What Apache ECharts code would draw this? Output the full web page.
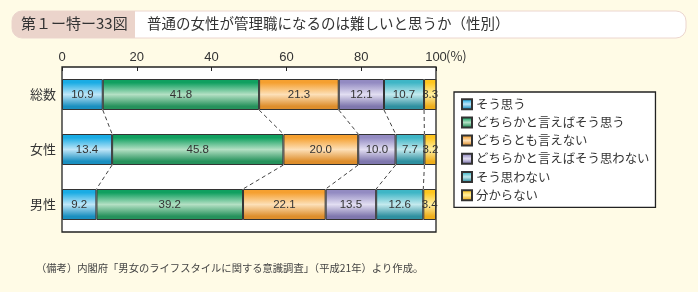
<!DOCTYPE html>
<html>
<head>
<meta charset="utf-8">
<script src="https://cdn.jsdelivr.net/npm/echarts@6/dist/echarts.min.js"></script>
<style>
  html, body { margin: 0; padding: 0; background: #fffbe6; }
  #chart { width: 698px; height: 292px; }
</style>
</head>
<body>
<div id="chart"></div>
<script>
  // 行（上から）
  var rows = ['総数', '女性', '男性'];
  // 回答区分
  var answers = ['そう思う', 'どちらかと言えばそう思う', 'どちらとも言えない', 'どちらかと言えばそう思わない', 'そう思わない', '分からない'];
  // 各区分の割合（総数, 女性, 男性）
  var soOmou = [10.9, 13.4, 9.2];
  var dochiraSoOmou = [41.8, 45.8, 39.2];
  var dochiraTomo = [21.3, 20.0, 22.1];
  var dochiraOmowanai = [12.1, 10.0, 13.5];
  var omowanai = [10.7, 7.7, 12.6];
  var wakaranai = [3.3, 3.2, 3.4];
  var xTicks = [0, 20, 40, 60, 80, 100];

  var values = [soOmou, dochiraSoOmou, dochiraTomo, dochiraOmowanai, omowanai, wakaranai];
  // [上端, 中央, 下端]
  var palette = [
    ['#1aace4', '#bfe6f8', '#1a8fc0'],
    ['#10a060', '#b4e0c4', '#26925c'],
    ['#f5a030', '#fde0b8', '#de8e2c'],
    ['#938bc2', '#e2def2', '#7f77ae'],
    ['#3fb6c6', '#c4eaee', '#2f90a0'],
    ['#ffc61e', '#fff0a4', '#eeae1c']
  ];

  function grad(c) {
    return new echarts.graphic.LinearGradient(0, 0, 0, 1, [
      {offset: 0, color: c[0]},
      {offset: 0.12, color: c[0]},
      {offset: 0.5, color: c[1]},
      {offset: 0.88, color: c[2]},
      {offset: 1, color: c[2]}
    ]);
  }

  // 累積の境界（破線用）
  var cum = rows.map(function (r, i) {
    var s = 0, out = [];
    for (var k = 0; k < values.length - 1; k++) {
      s += values[k][i];
      out.push(+s.toFixed(1));
    }
    return out;
  });
  var links = [];
  for (var i = 0; i < rows.length - 1; i++) {
    for (var k = 0; k < cum[i].length; k++) {
      links.push([cum[i][k], cum[i + 1][k], i]);
    }
  }

  var BAR_W = 31;
  var fontJP = '"Noto Sans CJK JP", "Noto Sans", sans-serif';

  var series = answers.map(function (name, k) {
    return {
      name: name,
      type: 'bar',
      stack: 'all',
      barWidth: BAR_W,
      itemStyle: {color: grad(palette[k]), borderColor: '#333', borderWidth: 1},
      label: {
        show: true,
        position: 'inside',
        color: '#333',
        fontSize: 11.5,
        fontFamily: 'Arial, "Liberation Sans", sans-serif',
        formatter: function (p) { return p.value.toFixed(1); }
      },
      data: values[k]
    };
  });

  series.push({
    type: 'custom',
    silent: true,
    z: 1,
    renderItem: function (params, api) {
      var row = api.value(2);
      var p1 = api.coord([api.value(0), row]);
      var p2 = api.coord([api.value(1), row + 1]);
      return {
        type: 'line',
        shape: {x1: p1[0], y1: p1[1] + BAR_W / 2, x2: p2[0], y2: p2[1] - BAR_W / 2},
        style: {stroke: '#444', lineWidth: 1, lineDash: [4, 3]}
      };
    },
    data: links
  });

  var myChart = echarts.init(document.getElementById('chart'));
  var option = {
    backgroundColor: '#fffbe6',
    animation: false,
    textStyle: {fontFamily: fontJP},
    grid: {
      left: 62,
      right: 262,
      top: 67,
      height: 165,
      show: true,
      backgroundColor: '#fff',
      borderColor: '#222',
      borderWidth: 1.3
    },
    legend: {
      orient: 'vertical',
      left: 454,
      top: 92,
      data: answers,
      icon: 'rect',
      itemWidth: 10,
      itemHeight: 10,
      itemGap: 5.8,
      padding: [6, 6, 6, 7],
      backgroundColor: '#fff',
      borderColor: '#222',
      borderWidth: 1.3,
      textStyle: {fontSize: 12.4, color: '#333', padding: [0, 0, 0, -1]},
      selectedMode: false
    },
    xAxis: {
      type: 'value',
      position: 'top',
      min: 0,
      max: 100,
      interval: 20,
      axisLine: {show: false},
      axisTick: {show: true, inside: true, length: 4, lineStyle: {color: '#222'}},
      axisLabel: {color: '#333', fontSize: 13, margin: 3, fontFamily: 'Arial, "Liberation Sans", sans-serif'},
      splitLine: {show: false}
    },
    yAxis: {
      type: 'category',
      inverse: true,
      data: rows,
      axisLine: {show: false},
      axisTick: {show: false},
      axisLabel: {color: '#333', fontSize: 13, margin: 6}
    },
    series: series,
    graphic: [
      {
        type: 'rect',
        shape: {x: 12, y: 11, width: 674, height: 27, r: 10},
        style: {fill: '#fff', stroke: '#ecd6cf', lineWidth: 1}
      },
      {
        type: 'rect',
        shape: {x: 12, y: 11, width: 123, height: 27, r: [10, 0, 0, 10]},
        style: {fill: '#ebd4cb'}
      },
      {
        type: 'text',
        left: 21,
        top: 16,
        style: {text: '第１ー特ー33図', fill: '#333', font: '15px ' + fontJP}
      },
      {
        type: 'text',
        left: 147,
        top: 16,
        style: {text: '普通の女性が管理職になるのは難しいと思うか（性別）', fill: '#333', font: '14.5px ' + fontJP}
      },
      {
        type: 'text',
        left: 446,
        top: 50,
        style: {text: '(%)', fill: '#333', font: '13px ' + fontJP}
      },
      {
        type: 'text',
        left: 36,
        top: 263,
        style: {text: '（備考）内閣府「男女のライフスタイルに関する意識調査」（平成21年）より作成。', fill: '#444', font: '10.3px ' + fontJP}
      }
    ]
  };
  myChart.setOption(option, true);
</script>
</body>
</html>
